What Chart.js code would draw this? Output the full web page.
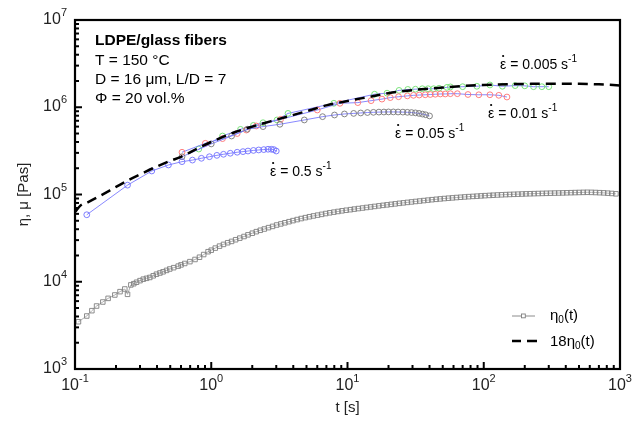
<!DOCTYPE html>
<html>
<head>
<meta charset="utf-8">
<script src="https://cdn.jsdelivr.net/npm/chart.js@4/dist/chart.umd.min.js"></script>
<style>
  body { margin: 0; background: #fff; }
  canvas { display: block; }
</style>
</head>
<body>
<canvas id="chart" width="632" height="421"></canvas>
<script>
// eta0(t), linear viscoelastic start-up (squares)
let tEta0 = [0.106, 0.122, 0.133, 0.144, 0.16, 0.175, 0.196, 0.214, 0.232, 0.243, 0.257,
  0.27, 0.283, 0.3, 0.317, 0.335, 0.354, 0.375, 0.396, 0.42, 0.443, 0.47, 0.496, 0.53, 0.572, 0.6,
  0.639, 0.697, 0.76, 0.82, 0.88, 0.948,
  1.0, 1.07, 1.15, 1.23, 1.32, 1.41, 1.51, 1.62, 1.74, 1.86, 2.0, 2.14, 2.29, 2.45, 2.63, 2.82,
  3.02, 3.24, 3.47, 3.72, 3.98, 4.27, 4.57, 4.9, 5.25, 5.62, 6.03, 6.46, 6.92, 7.41, 7.94, 8.51,
  9.12, 9.77,
  10.5, 11.2, 12.0, 12.9, 13.8, 14.8, 15.8, 17.0, 18.2, 19.5, 20.9, 22.4, 24.0, 25.7, 27.5, 29.5,
  31.6, 33.9, 36.3, 38.9, 41.7, 44.7, 47.9, 51.3, 55.0, 58.9, 63.1, 67.6, 72.4, 77.6, 83.2, 89.1,
  95.5, 102, 110, 117, 126, 135, 145, 155, 166, 178, 191, 204, 219, 234, 251, 269, 288, 309, 331,
  355, 380, 407, 437, 468, 501, 537, 575, 617, 661, 708, 759, 813, 871, 933];
let eta0 = [3480, 4050, 4660, 5270, 5860, 6450, 7050, 7700, 8260, 7180, 9200,
  9500, 9870, 10300, 10700, 10950, 11200, 11700, 12200, 12600, 13000, 13500, 14000, 14500, 15100, 15600,
  16200, 17000, 18000, 19100, 20500, 22100,
  23000, 24300, 25600, 26800, 28000, 29000, 30300, 31600, 33000, 34500, 36000, 37500, 38900, 40200, 41700, 43100,
  44700, 46000, 47400, 48800, 50200, 51600, 53000, 54300, 55600, 56800, 58000, 59200, 60500, 61700, 62800, 63900,
  65000, 66000,
  67000, 68000, 69000, 70000, 71000, 72000, 73000, 74100, 75100, 76100, 77100, 78100, 79200, 80200, 81200, 82200,
  83200, 84200, 85200, 86200, 87200, 88100, 89000, 89900, 90700, 91500, 92300, 93000, 93800, 94500, 95100, 95700,
  96400, 97000, 97600, 98100, 98700, 99200, 99700, 100100, 100500, 100900, 101300, 101700, 102000, 102300, 102600, 102900, 103200, 103500, 103800,
  104000, 104300, 104600, 104900, 105200, 105500, 105800, 106000, 105800, 105400, 104900, 104400, 103600, 102800, 101800];

// 18 eta0(t) (dashed)
let tDash = [0.1, 0.11, 0.125, 0.15, 0.2, 0.25, 0.3, 0.4, 0.5, 0.6, 0.8, 1.0, 1.5, 2, 3, 5, 7, 10, 15, 20,
  30, 50, 70, 100, 150, 200, 300, 500, 700, 1000];
let eta18 = [63000, 75000, 82000, 95000, 122000, 148000, 170000, 210000, 243000, 270000, 340000, 400000,
  520000, 600000, 720000, 900000, 1050000, 1180000, 1330000, 1450000, 1570000, 1680000, 1750000, 1800000,
  1840000, 1850000, 1860000, 1860000, 1830000, 1780000];

// mu(t) at 0.5 s^-1
let tR05 = [0.122, 0.243, 0.366, 0.485, 0.61, 0.728, 0.847, 0.97, 1.1, 1.23, 1.38, 1.55, 1.71, 1.86, 2.04,
  2.23, 2.43, 2.61, 2.76, 2.88, 3.0];
let muR05 = [58600, 128000, 186000, 218000, 238000, 248000, 260000, 271000, 281000, 289000, 297000, 305000,
  310000, 315000, 320000, 324000, 327000, 330000, 330000, 327000, 315000];

// mu(t) at 0.05 s^-1
let tR005 = [0.61, 1.0, 1.41, 1.84, 2.4, 3.19, 4.82, 6.56, 8.03, 9.5, 11.1, 12.5, 14, 15.5, 17, 18.5, 20,
  21.7, 23.5, 25.5, 27.5, 29.5, 31.5, 33.5, 35.5, 37.5, 40];
let muR005 = [271000, 380000, 468000, 560000, 600000, 638000, 715000, 780000, 815000, 838000, 850000, 860000,
  870000, 875000, 880000, 882000, 884000, 884000, 882000, 880000, 875000, 870000, 862000, 850000, 835000,
  820000, 795000];

// mu(t) at 0.01 s^-1
let tR001 = [0.61, 0.905, 1.21, 1.55, 1.81, 2.14, 3.23, 6.0, 8.8, 11.9, 14.9, 17.9, 20.6, 23.7, 27.5, 30.5,
  33.6, 37.2, 40.5, 44.1, 48, 52.2, 56.9, 64, 76.6, 92, 111, 129, 148];
let muR001 = [305000, 386000, 437000, 500000, 548000, 610000, 728000, 930000, 1110000, 1130000, 1190000,
  1240000, 1290000, 1320000, 1350000, 1370000, 1380000, 1390000, 1400000, 1410000, 1420000, 1420000,
  1430000, 1430000, 1400000, 1390000, 1390000, 1370000, 1310000];

// mu(t) at 0.005 s^-1
let tR0005 = [0.81, 1.21, 1.64, 2.04, 2.4, 3.04, 3.66, 7.94, 15.8, 19.5, 23.9, 27.7, 31.5, 35.4, 39, 42.9,
  47, 53.7, 56.9, 70, 89, 111, 137, 170, 200, 232, 267, 300];
let muR0005 = [332000, 468000, 558000, 620000, 665000, 715000, 850000, 1110000, 1410000, 1450000, 1560000,
  1600000, 1610000, 1630000, 1630000, 1630000, 1650000, 1690000, 1710000, 1720000, 1740000, 1800000,
  1740000, 1770000, 1760000, 1720000, 1720000, 1720000];

let xDecades = [-1, 0, 1, 2, 3];
let yDecades = [3, 4, 5, 6, 7];

function pts(xs, ys) {
  return xs.map((x, i) => ({ x: x, y: ys[i] }));
}

const FONT = "Liberation Sans, Arial, sans-serif";

function circleSet(xs, ys, color) {
  return {
    data: pts(xs, ys),
    showLine: true,
    borderColor: "#6a6aff",
    borderWidth: 0.8,
    pointStyle: "circle",
    pointRadius: 2.9,
    pointBorderWidth: 0.9,
    pointBorderColor: color,
    pointBackgroundColor: "rgba(0,0,0,0)"
  };
}

// superscript / subscript text helper
function richText(ctx, x, y, parts, align) {
  let w = 0;
  parts.forEach(p => { ctx.font = p.size + "px " + FONT; w += ctx.measureText(p.t).width; });
  let cx = x;
  if (align === "center") cx = x - w / 2;
  if (align === "right") cx = x - w;
  parts.forEach(p => {
    ctx.font = p.size + "px " + FONT;
    ctx.fillText(p.t, cx, y + (p.dy || 0));
    cx += ctx.measureText(p.t).width;
  });
}

function rateLabel(ctx, x, y, rate) {
  ctx.font = "14px " + FONT;
  ctx.fillText("ε", x, y);
  let ew = ctx.measureText("ε").width;
  ctx.beginPath();
  ctx.arc(x + ew / 2, y - 13, 1.1, 0, Math.PI * 2);
  ctx.fill();
  richText(ctx, x + ew, y, [{ t: " = " + rate + " s", size: 14 }, { t: "-1", size: 10, dy: -7 }], "left");
}

const frame = {
  id: "frame",
  afterDraw(chart) {
    const ctx = chart.ctx;
    const a = chart.chartArea;
    const xs = chart.scales.x, ys = chart.scales.y;
    ctx.save();
    ctx.fillStyle = "#000";
    ctx.strokeStyle = "#000";
    ctx.textBaseline = "alphabetic";

    // ticks (inside), left and bottom
    ctx.lineWidth = 2;
    for (let d = 3; d < 7; d++) {
      for (let k = 1; k < 10; k++) {
        const py = ys.getPixelForValue(k * Math.pow(10, d));
        const len = k === 1 ? 7 : 4;
        ctx.beginPath(); ctx.moveTo(a.left, py); ctx.lineTo(a.left + len, py); ctx.stroke();
      }
    }
    for (let d = -1; d < 3; d++) {
      for (let k = 1; k < 10; k++) {
        const px = xs.getPixelForValue(k * Math.pow(10, d));
        const len = k === 1 ? 7 : 4;
        ctx.beginPath(); ctx.moveTo(px, a.bottom); ctx.lineTo(px, a.bottom - len); ctx.stroke();
      }
    }
    ctx.lineWidth = 2.2;
    ctx.strokeRect(a.left, a.top, a.right - a.left, a.bottom - a.top);

    // tick labels
    ctx.fillStyle = "#222";
    yDecades.forEach(d => {
      const py = ys.getPixelForValue(Math.pow(10, d));
      richText(ctx, a.left - 8, py + 4, [{ t: "10", size: 16 }, { t: String(d), size: 11, dy: -8 }], "right");
    });
    xDecades.forEach(d => {
      const px = xs.getPixelForValue(Math.pow(10, d));
      richText(ctx, px, a.bottom + 21, [{ t: "10", size: 16 }, { t: String(d), size: 11, dy: -8 }], "center");
    });

    // axis titles
    ctx.font = "15px " + FONT;
    ctx.textAlign = "center";
    ctx.fillText("t [s]", (a.left + a.right) / 2, 412);
    ctx.save();
    ctx.translate(28, (a.top + a.bottom) / 2);
    ctx.rotate(-Math.PI / 2);
    ctx.fillText("η, μ [Pas]", 0, 0);
    ctx.restore();
    ctx.textAlign = "left";

    // sample description
    ctx.fillStyle = "#000";
    ctx.font = "bold 15.5px " + FONT;
    ctx.fillText("LDPE/glass fibers", 95, 45);
    ctx.font = "15.5px " + FONT;
    ctx.fillText("T = 150 °C", 95, 64.5);
    ctx.fillText("D = 16 μm, L/D = 7", 95, 84);
    ctx.fillText("Φ = 20 vol.%", 95, 103);

    // strain-rate labels
    rateLabel(ctx, 500, 69, "0.005");
    rateLabel(ctx, 488, 118, "0.01");
    rateLabel(ctx, 395, 138, "0.05");
    rateLabel(ctx, 270, 176, "0.5");

    // legend
    ctx.strokeStyle = "#808080";
    ctx.lineWidth = 0.9;
    ctx.beginPath(); ctx.moveTo(512, 316); ctx.lineTo(535, 316); ctx.stroke();
    ctx.fillStyle = "#fff";
    ctx.fillRect(521.5, 314, 3.8, 3.8);
    ctx.strokeRect(521.5, 314, 3.8, 3.8);
    ctx.strokeStyle = "#000";
    ctx.lineWidth = 2.5;
    ctx.beginPath();
    ctx.moveTo(512, 341); ctx.lineTo(521, 341);
    ctx.moveTo(527, 341); ctx.lineTo(537, 341);
    ctx.stroke();
    ctx.fillStyle = "#000";
    richText(ctx, 550, 320, [{ t: "η", size: 15 }, { t: "0", size: 10, dy: 3 }, { t: "(t)", size: 15 }], "left");
    richText(ctx, 550, 346, [{ t: "18η", size: 15 }, { t: "0", size: 10, dy: 3 }, { t: "(t)", size: 15 }], "left");
    ctx.restore();
  }
};

new Chart(document.getElementById("chart").getContext("2d"), {
  type: "line",
  data: {
    datasets: [
      {
        data: pts(tDash, eta18),
        borderColor: "#000",
        borderWidth: 2.5,
        borderDash: [10, 6],
        pointRadius: 0,
        cubicInterpolationMode: "monotone"
      },
      circleSet(tR05, muR05, "#7070ff"),
      circleSet(tR005, muR005, "#777777"),
      circleSet(tR001, muR001, "#ff7070"),
      circleSet(tR0005, muR0005, "#6ee06e"),
      {
        data: pts(tEta0, eta0),
        showLine: true,
        borderColor: "#9a9a9a",
        borderWidth: 0.8,
        pointStyle: "rect",
        pointRadius: 3.2,
        pointBorderWidth: 0.9,
        pointBorderColor: "#808080",
        pointBackgroundColor: "rgba(0,0,0,0)"
      }
    ]
  },
  options: {
    responsive: false,
    animation: false,
    devicePixelRatio: 1,
    layout: { padding: { left: 75, top: 20, right: 12, bottom: 52 } },
    plugins: { legend: { display: false }, tooltip: { enabled: false } },
    scales: {
      x: { type: "logarithmic", min: 0.1, max: 1000, display: false },
      y: { type: "logarithmic", min: 1000, max: 1e7, display: false }
    }
  },
  plugins: [frame]
});
</script>
</body>
</html>
